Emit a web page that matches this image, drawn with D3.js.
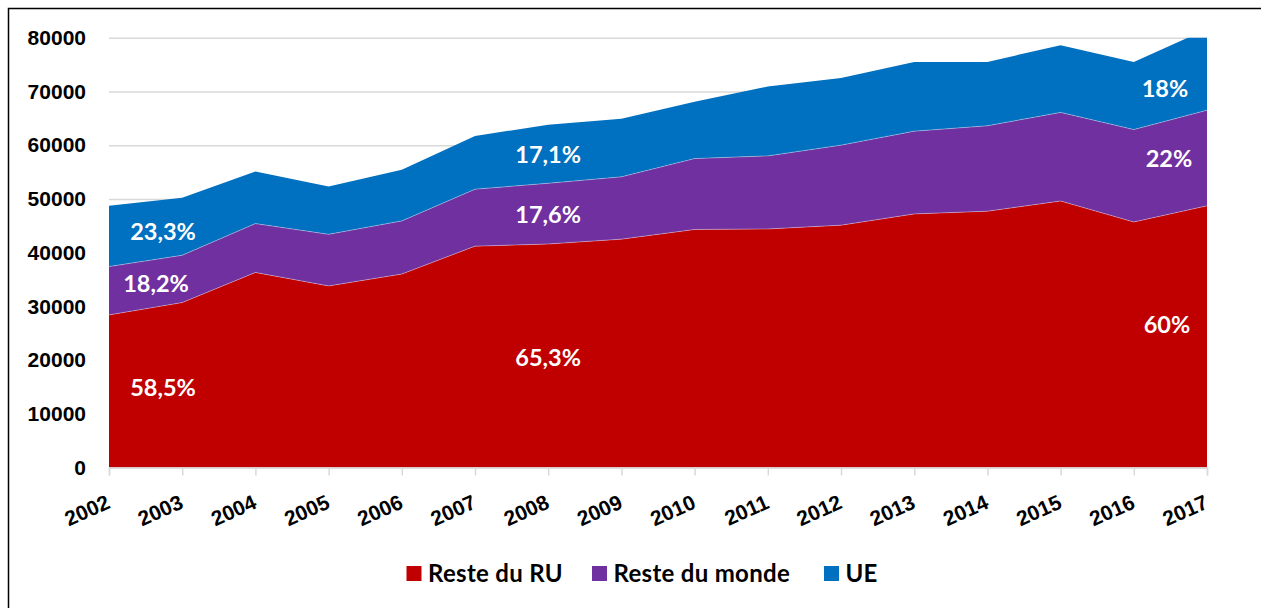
<!DOCTYPE html>
<html>
<head>
<meta charset="utf-8">
<script src="https://cdn.jsdelivr.net/npm/d3@7"></script>
<style>
  body { margin: 0; background: #fff; }
  svg { display: block; font-family: Lato, "Open Sans", sans-serif; font-weight: 700; }
</style>
</head>
<body>
<div id="chart"></div>
<script>
// data
const years = [2002, 2003, 2004, 2005, 2006, 2007, 2008, 2009, 2010, 2011, 2012, 2013, 2014, 2015, 2016, 2017];
const resteRU = [28400, 30700, 36300, 33800, 36000, 41200, 41600, 42500, 44300, 44400, 45100, 47200, 47700, 49600, 45700, 48700];
const resteMonde = [9000, 8800, 9100, 9600, 9900, 10600, 11300, 11600, 13200, 13600, 14900, 15400, 15900, 16500, 17200, 17800];
const ue = [11300, 10700, 9700, 8900, 9500, 9900, 10900, 10800, 10600, 12900, 12500, 12900, 11900, 12500, 12600, 15100];
const seriesNames = ["Reste du RU", "Reste du monde", "UE"];
const yTicks = [0, 10000, 20000, 30000, 40000, 50000, 60000, 70000, 80000];
const shareLabels = [
  { text: "58,5%", series: "Reste du RU", year: 2002 },
  { text: "18,2%", series: "Reste du monde", year: 2002 },
  { text: "23,3%", series: "UE", year: 2002 },
  { text: "65,3%", series: "Reste du RU", year: 2008 },
  { text: "17,6%", series: "Reste du monde", year: 2008 },
  { text: "17,1%", series: "UE", year: 2008 },
  { text: "60%", series: "Reste du RU", year: 2017 },
  { text: "22%", series: "Reste du monde", year: 2017 },
  { text: "18%", series: "UE", year: 2017 }
];

const colors = { "Reste du RU": "#C00000", "Reste du monde": "#7030A0", "UE": "#0070C0" };

const W = 1261, H = 608;
const margin = { top: 37.7, right: 54, bottom: 140.5, left: 109 };
const width = W - margin.left - margin.right;
const height = H - margin.top - margin.bottom;

const svg = d3.select("#chart").append("svg")
  .attr("width", W)
  .attr("height", H);

// outer frame (runs off the right and bottom of the window)
svg.append("rect")
  .attr("x", 8.5).attr("y", 8.5)
  .attr("width", W + 20).attr("height", H + 20)
  .attr("fill", "none")
  .attr("stroke", "#000")
  .attr("stroke-width", 1.5);

const g = svg.append("g")
  .attr("transform", `translate(${margin.left}, ${margin.top})`);

const x = d3.scaleLinear().domain([years[0], years[years.length - 1]]).range([0, width]);
const y = d3.scaleLinear().domain([0, 80000]).range([height, 0]);

const table = years.map((yr, i) => ({
  year: yr,
  "Reste du RU": resteRU[i],
  "Reste du monde": resteMonde[i],
  "UE": ue[i]
}));
const stacked = d3.stack().keys(seriesNames)(table);

// gridlines + y labels
const yAxis = g.append("g")
  .call(d3.axisLeft(y).tickValues(yTicks).tickSize(-width).tickPadding(23).tickFormat(d3.format("d")));
yAxis.select(".domain").remove();
yAxis.selectAll(".tick line")
  .attr("stroke", "#d9d9d9")
  .attr("stroke-width", 1.5);
yAxis.selectAll(".tick text")
  .attr("fill", "#000")
  .style("font-size", "21px")
  .style("font-weight", 700);

g.append("clipPath").attr("id", "plot-clip")
  .append("rect").attr("x", 0).attr("y", 0).attr("width", width).attr("height", height);

const area = d3.area()
  .x(d => x(d.data.year))
  .y0(d => y(d[0]))
  .y1(d => y(d[1]));
const topLine = d3.line()
  .x(d => x(d.data.year))
  .y(d => y(d[1]));

const areas = g.append("g").attr("clip-path", "url(#plot-clip)");
areas.selectAll("path.area")
  .data(stacked)
  .join("path")
  .attr("class", "area")
  .attr("fill", d => colors[d.key])
  .attr("d", area);
areas.selectAll("path.edge")
  .data(stacked.slice(0, 2))
  .join("path")
  .attr("class", "edge")
  .attr("fill", "none")
  .attr("stroke", "#fff")
  .attr("stroke-opacity", 0.35)
  .attr("stroke-width", 1)
  .attr("d", topLine);

// x axis
const xAxis = g.append("g")
  .attr("transform", `translate(0, ${height})`)
  .call(d3.axisBottom(x).tickValues(years).tickSize(8).tickFormat(d3.format("d")));
xAxis.select(".domain").attr("stroke", "#d9d9d9").attr("stroke-width", 1.5);
xAxis.selectAll(".tick line").attr("stroke", "#d9d9d9").attr("stroke-width", 1.5);
xAxis.selectAll(".tick text")
  .attr("fill", "#000")
  .style("font-size", "21px")
  .style("font-weight", 700)
  .attr("text-anchor", "end")
  .attr("dy", null)
  .attr("y", 0)
  .attr("transform", "translate(2, 40) rotate(-24)");

// share labels, placed in the middle of each band
const nudge = {
  "58,5%": [0, 1], "18,2%": [-7, 2], "23,3%": [0, 3],
  "65,3%": [0, 2], "17,6%": [0, 1], "17,1%": [0, 1],
  "60%": [0, -16], "22%": [2, -9], "18%": [-2, 5]
};
function bandMid(layer, xPos) {
  const t = x.invert(xPos);
  const i = Math.max(0, Math.min(years.length - 2, Math.floor(t - years[0])));
  const f = (t - years[i]) / (years[i + 1] - years[i]);
  const lo = layer[i][0] + f * (layer[i + 1][0] - layer[i][0]);
  const hi = Math.min(80000, layer[i][1] + f * (layer[i + 1][1] - layer[i][1]));
  return y((lo + hi) / 2);
}
g.selectAll("text.share")
  .data(shareLabels)
  .join("text")
  .attr("class", "share")
  .each(function (d) {
    const layer = stacked.find(s => s.key === d.series);
    let cx = x(d.year);
    if (d.year === years[0]) cx += 54;
    if (d.year === years[years.length - 1]) cx -= 40;
    const [dx, dy] = nudge[d.text] || [0, 0];
    d3.select(this)
      .attr("x", cx + dx)
      .attr("y", bandMid(layer, cx) + 8 + dy);
  })
  .attr("text-anchor", "middle")
  .attr("fill", "#fff")
  .style("font-size", "23.5px")
  .text(d => d.text);

// legend
const legendX = [406.5, 592, 824];
const legend = svg.append("g").attr("transform", "translate(0, 566)");
const items = legend.selectAll("g")
  .data(seriesNames)
  .join("g")
  .attr("transform", (d, i) => `translate(${legendX[i]}, 0)`);
items.append("rect")
  .attr("width", 15).attr("height", 15)
  .attr("fill", d => colors[d]);
items.append("text")
  .attr("x", 21.5).attr("y", 15.5)
  .style("font-size", "24px")
  .style("letter-spacing", "0.3px")
  .attr("fill", "#000")
  .text(d => d);
</script>
</body>
</html>
